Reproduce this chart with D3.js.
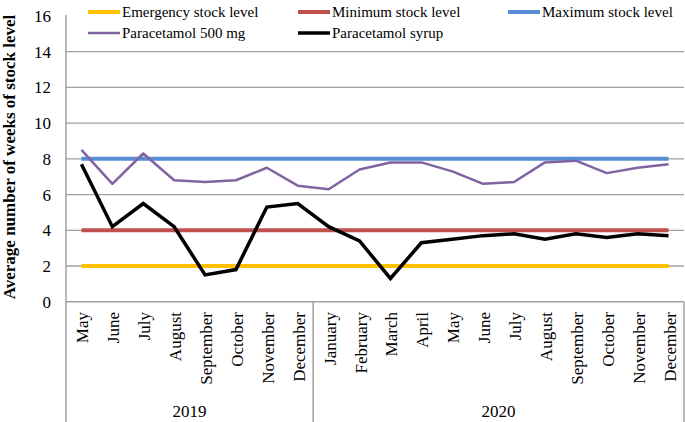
<!DOCTYPE html>
<html><head><meta charset="utf-8">
<script src="https://cdn.jsdelivr.net/npm/d3@7"></script>
<style>body{margin:0;background:#fff}svg{display:block}text{font-family:"Liberation Serif","Times New Roman",serif;fill:#000}</style>
</head><body><svg id="c" width="685" height="422"></svg>
<script>
const months = ["May","June","July","August","September","October","November","December",
  "January","February","March","April","May","June","July","August","September","October","November","December"];
const years = [{label:"2019", start:0, end:8},{label:"2020", start:8, end:20}];
const para500 = [8.5,6.6,8.3,6.8,6.7,6.8,7.5,6.5,6.3,7.4,7.8,7.8,7.3,6.6,6.7,7.8,7.9,7.2,7.5,7.7];
const paraSyrup = [7.7,4.2,5.5,4.2,1.5,1.8,5.3,5.5,4.2,3.4,1.3,3.3,3.5,3.7,3.8,3.5,3.8,3.6,3.8,3.7];
const emergencyLevel = 2, minimumLevel = 4, maximumLevel = 8;
const yTicks = [0,2,4,6,8,10,12,14,16];

(function(){
const svg = d3.select("#c");
const pLeft = 66, pRight = 684, pTop = 16, pBottom = 301.7;
const idx = d3.range(months.length);
const x = d3.scaleBand().domain(idx).range([pLeft, pRight]).paddingInner(0).paddingOuter(0);
const cx = i => x(i) + x.bandwidth()/2;
const edge = i => i < months.length ? x(i) : pRight;
const y = d3.scaleLinear().domain([0,16]).range([pBottom, pTop]);
const gray = "#a0a0a0";

// gridlines
svg.append("g").selectAll("line").data(yTicks.filter(v => v > 0 && v < 16)).join("line")
  .attr("x1", pLeft).attr("x2", pRight).attr("y1", d => y(d)).attr("y2", d => y(d))
  .attr("stroke", gray).attr("stroke-width", 1.3);

// y tick labels
svg.append("g").selectAll("text").data(yTicks).join("text")
  .attr("x", 51).attr("y", d => y(d)).attr("dy", "0.35em").attr("text-anchor", "end")
  .style("font-size", "17px").text(d => d);

// axis frame
svg.append("line").attr("x1", pLeft).attr("x2", pLeft).attr("y1", 15).attr("y2", 422).attr("stroke", gray).attr("stroke-width", 1.5);
svg.append("line").attr("x1", pLeft).attr("x2", pRight).attr("y1", pBottom).attr("y2", pBottom).attr("stroke", gray).attr("stroke-width", 1.5);
years.forEach(yr => {
  svg.append("line").attr("x1", edge(yr.end)).attr("x2", edge(yr.end))
    .attr("y1", pBottom).attr("y2", 422).attr("stroke", gray).attr("stroke-width", 1.5);
});

// month labels
svg.append("g").selectAll("text").data(idx).join("text")
  .attr("transform", i => `translate(${cx(i)+7},312) rotate(-90)`)
  .attr("text-anchor", "end").style("font-size", "17px").text(i => months[i]);

// year labels
svg.append("g").selectAll("text").data(years).join("text")
  .attr("x", d => (edge(d.start) + edge(d.end))/2)
  .attr("y", 417).attr("text-anchor", "middle").style("font-size", "17px").text(d => d.label);

// y title
svg.append("text").attr("transform", "translate(15,157) rotate(-90)")
  .attr("text-anchor", "middle").style("font-size", "17px").style("font-weight", "bold")
  .text("Average number of weeks of stock level");

// reference lines
const refs = [
  {v: emergencyLevel, c: "#FFC000"},
  {v: minimumLevel, c: "#C0504D"},
  {v: maximumLevel, c: "#558ED5"}
];
const line = d3.line().x((d,i) => cx(i)).y(d => y(d));
refs.forEach(r => {
  svg.append("path").attr("d", line(idx.map(() => r.v))).attr("fill","none")
    .attr("stroke", r.c).attr("stroke-width", 4);
});
svg.append("path").attr("d", line(para500)).attr("fill","none").attr("stroke","#8064A2").attr("stroke-width",2.5).attr("stroke-linejoin","round");
svg.append("path").attr("d", line(paraSyrup)).attr("fill","none").attr("stroke","#000").attr("stroke-width",3.5).attr("stroke-linejoin","miter");

// legend
const legend = [
  {t:"Emergency stock level", c:"#FFC000", w:4, lx:88, ly:12},
  {t:"Minimum stock level", c:"#C0504D", w:4, lx:298, ly:12},
  {t:"Maximum stock level", c:"#558ED5", w:4, lx:508, ly:12},
  {t:"Paracetamol 500 mg", c:"#8064A2", w:2.5, lx:88, ly:33},
  {t:"Paracetamol syrup", c:"#000", w:3.5, lx:298, ly:33}
];
const lg = svg.append("g").selectAll("g").data(legend).join("g");
lg.append("line").attr("x1", d => d.lx).attr("x2", d => d.lx+32).attr("y1", d => d.ly).attr("y2", d => d.ly)
  .attr("stroke", d => d.c).attr("stroke-width", d => d.w);
lg.append("text").attr("x", d => d.lx+34).attr("y", d => d.ly).attr("dy","0.35em")
  .style("font-size","15px").text(d => d.t);
})();
</script></body></html>
